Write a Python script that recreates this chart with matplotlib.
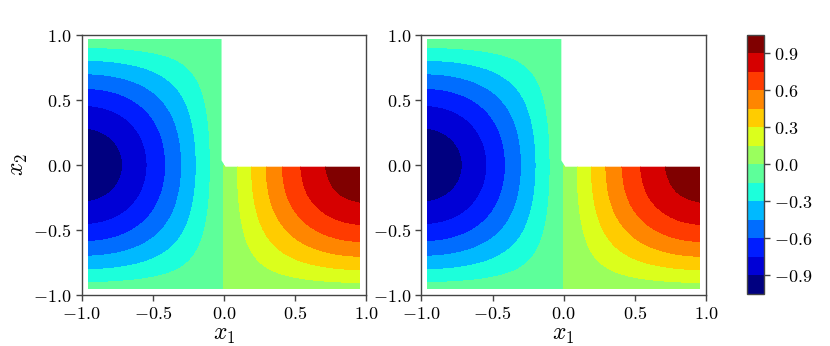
import numpy as np
import matplotlib
matplotlib.use("Agg")
import matplotlib.pyplot as plt
import matplotlib.tri as mtri
from matplotlib.patches import Polygon
from matplotlib.colors import Normalize
from matplotlib.ticker import FuncFormatter

plt.rcParams['mathtext.fontset'] = 'cm'
plt.rcParams['font.family'] = ['DejaVu Serif']

# left part of the L-shaped domain (x <= 0)
x_left = [-0.955, -0.85, -0.7, -0.55, -0.4, -0.25, -0.12, 0.0]
y_left = [-0.95, -0.8, -0.6, -0.4, -0.2, 0.0, 0.2, 0.4, 0.6, 0.8, 0.962]
u_left = [
    [-0.078, -0.076, -0.069, -0.059, -0.046, -0.030, -0.015, -0.01],
    [-0.308, -0.300, -0.275, -0.235, -0.182, -0.118, -0.058, -0.01],
    [-0.586, -0.572, -0.524, -0.447, -0.346, -0.225, -0.110, -0.01],
    [-0.807, -0.786, -0.721, -0.615, -0.476, -0.310, -0.151, -0.01],
    [-0.948, -0.924, -0.847, -0.723, -0.559, -0.364, -0.178, -0.01],
    [-0.997, -0.972, -0.891, -0.760, -0.588, -0.383, -0.187, -0.01],
    [-0.948, -0.924, -0.847, -0.723, -0.559, -0.364, -0.178, -0.01],
    [-0.807, -0.786, -0.721, -0.615, -0.476, -0.310, -0.151, -0.01],
    [-0.586, -0.572, -0.524, -0.447, -0.346, -0.225, -0.110, -0.01],
    [-0.308, -0.300, -0.275, -0.235, -0.182, -0.118, -0.058, -0.01],
    [-0.060, -0.058, -0.053, -0.045, -0.035, -0.023, -0.011, -0.01],
]

# lower right part (x >= 0, y <= 0)
x_right = [0.0, 0.12, 0.25, 0.4, 0.55, 0.7, 0.85, 0.957]
y_right = [-0.95, -0.8, -0.6, -0.4, -0.2, 0.0]
u_right = [
    [0.01, 0.015, 0.030, 0.046, 0.059, 0.069, 0.076, 0.078],
    [0.01, 0.058, 0.118, 0.182, 0.235, 0.275, 0.300, 0.308],
    [0.01, 0.110, 0.225, 0.346, 0.447, 0.524, 0.572, 0.587],
    [0.01, 0.151, 0.310, 0.476, 0.615, 0.721, 0.786, 0.807],
    [0.01, 0.178, 0.364, 0.559, 0.723, 0.847, 0.924, 0.949],
    [0.01, 0.187, 0.383, 0.588, 0.760, 0.891, 0.972, 0.998],
]

levels = np.linspace(-1.05, 1.05, 15)
axis_ticks = [-1.0, -0.5, 0.0, 0.5, 1.0]
cbar_ticks = [-0.9, -0.6, -0.3, 0.0, 0.3, 0.6, 0.9]

# outline of the L-shaped domain (notch in the upper right)
domain = [(-1.1, -1.1), (1.1, -1.1), (1.1, -0.013), (0.012, -0.013),
          (-0.016, 0.035), (-0.016, 1.1), (-1.1, 1.1)]

# colours are taken at the middle of each band, like contourf does
mids = 0.5 * (levels[:-1] + levels[1:])
norm = Normalize(vmin=mids.min(), vmax=mids.max())

fmt = FuncFormatter(lambda v, pos: '$%.1f$' % v)
spine_col = '#444444'


def patch_plot(ax, xs, ys, vals):
    X, Y = np.meshgrid(xs, ys)
    tri = mtri.Triangulation(X.ravel(), Y.ravel())
    refiner = mtri.UniformTriRefiner(tri)
    tri_f, z_f = refiner.refine_field(np.array(vals).ravel(), subdiv=4)
    cs = ax.tricontourf(tri_f, z_f, levels=levels, cmap='jet', norm=norm)
    clip = Polygon(domain, closed=True, transform=ax.transData)
    cs.set_clip_path(clip)
    return cs


fig = plt.figure(figsize=(8.3, 3.46), dpi=100)
ax1 = fig.add_axes([0.0984, 0.1474, 0.3425, 0.7514])
ax2 = fig.add_axes([0.5078, 0.1474, 0.3425, 0.7514])
cax = fig.add_axes([0.9, 0.1503, 0.0205, 0.7486])

for ax in (ax1, ax2):
    cs = patch_plot(ax, x_left, y_left, u_left)
    patch_plot(ax, x_right, y_right, u_right)
    ax.set_xlim(-1, 1)
    ax.set_ylim(-1, 1)
    ax.set_xticks(axis_ticks)
    ax.set_yticks(axis_ticks)
    ax.xaxis.set_major_formatter(fmt)
    ax.yaxis.set_major_formatter(fmt)
    ax.tick_params(labelsize=13, color=spine_col, length=4, width=1)
    for s in ax.spines.values():
        s.set_color(spine_col)
        s.set_linewidth(1)
    ax.set_xlabel('$x_1$', fontsize=17, labelpad=0)

ax1.set_ylabel('$x_2$', fontsize=17, labelpad=2)

cb = fig.colorbar(cs, cax=cax, ticks=cbar_ticks)
cb.ax.yaxis.set_major_formatter(fmt)
cb.ax.tick_params(labelsize=13, color=spine_col, length=4, width=1)
cb.outline.set_edgecolor(spine_col)
cb.outline.set_linewidth(1)

fig.savefig('out.png', dpi=100)
